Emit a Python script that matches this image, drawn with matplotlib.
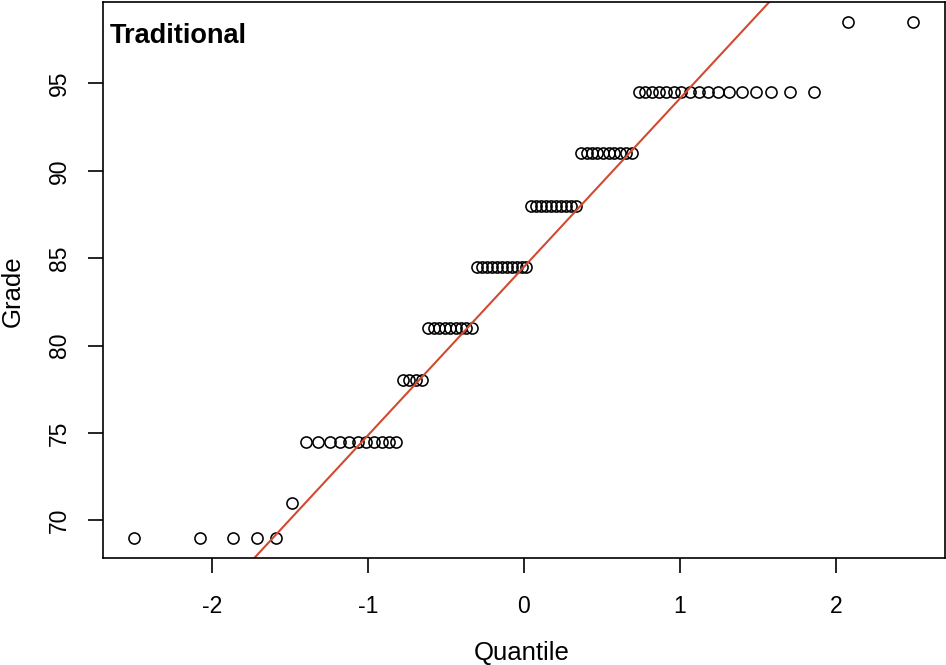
import numpy as np
import matplotlib
matplotlib.use("Agg")
import matplotlib.pyplot as plt
from statistics import NormalDist

# Data: grade levels and how many students got each
grade_levels = [69, 71, 74.5, 78, 81, 84.5, 88, 91, 94.5, 98.5]
grade_counts = [5, 1, 11, 4, 9, 11, 10, 10, 17, 2]
title = "Traditional"
x_ticks = [-2, -1, 0, 1, 2]
y_ticks = [70, 75, 80, 85, 90, 95]

grades = np.sort(np.repeat(grade_levels, grade_counts))
n = len(grades)
nd = NormalDist()
a = 0.5 if n > 10 else 3 / 8
theo = np.array([nd.inv_cdf((i - a) / (n + 1 - 2 * a)) for i in range(1, n + 1)])

# qqline through quartiles
yq = np.quantile(grades, [0.25, 0.75])
xq = np.array([nd.inv_cdf(0.25), nd.inv_cdf(0.75)])
slope = (yq[1] - yq[0]) / (xq[1] - xq[0])
intercept = yq[0] - slope * xq[0]

plt.rcParams['font.family'] = ['Liberation Sans', 'DejaVu Sans']
W, H = 946, 665
fig = plt.figure(figsize=(W / 100, H / 100), dpi=100)
left, right, top, bottom = 103.3, 944.6, 1.7, 558.3
ax = fig.add_axes([left / W, 1 - bottom / H, (right - left) / W, (bottom - top) / H])

ax.plot(theo, grades, linestyle='none', marker='o', markersize=8.0,
        markerfacecolor='none', markeredgecolor='black', markeredgewidth=1.15)
ax.axline((0, intercept), slope=slope, color='#d24a30', linewidth=1.5)

xr = theo.max() - theo.min()
ax.set_xlim(theo.min() - 0.04 * xr, theo.max() + 0.04 * xr)
yr = grades.max() - grades.min()
ax.set_ylim(grades.min() - 0.04 * yr, grades.max() + 0.04 * yr)

ax.set_xticks(x_ticks)
ax.set_xticklabels([str(t) for t in x_ticks])
ax.set_yticks(y_ticks)
ax.set_yticklabels([str(t) for t in y_ticks], rotation=90, va='center')
ax.tick_params(axis='both', direction='out', length=10.8, width=1.2,
               labelsize=16.5, colors='black')
ax.tick_params(axis='x', pad=15.5)
ax.tick_params(axis='y', pad=12.5)
for s in ax.spines.values():
    s.set_linewidth(1.2)
    s.set_color('black')

ax.text(0.0075, 1 - (42.7 - top) / (bottom - top), title, transform=ax.transAxes,
        fontsize=19.5, fontweight='bold', ha='left', va='baseline')

fig.text(522 / W, 1 - 660 / H, "Quantile", fontsize=18.5, ha='center', va='baseline')
fig.text(24.5 / W, 1 - 291 / H, "Grade", fontsize=18.5, ha='right', va='center',
         rotation=90)

fig.savefig("out.png", dpi=100)
